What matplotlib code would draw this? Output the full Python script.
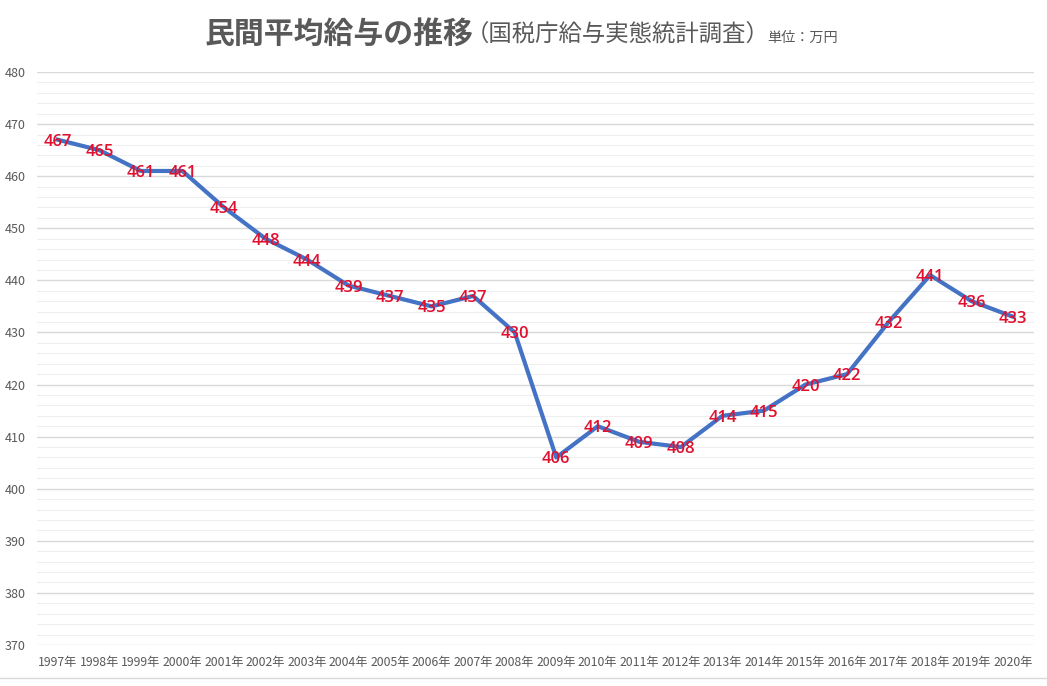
import matplotlib.pyplot as plt
from matplotlib.lines import Line2D
from matplotlib.ticker import MultipleLocator

plt.rcParams['font.family'] = ['Noto Sans CJK JP', 'DejaVu Sans']

years = [str(y) + '年' for y in range(1997, 2021)]
salary = [467, 465, 461, 461, 454, 448, 444, 439, 437, 435, 437, 430,
          406, 412, 409, 408, 414, 415, 420, 422, 432, 441, 436, 433]

W, H = 1047, 686
fig = plt.figure(figsize=(W / 100, H / 100), dpi=100)
ax = fig.add_axes([37 / W, (H - 645) / H, (1034 - 37) / W, (645 - 72) / H])

x = list(range(len(years)))
ax.plot(x, salary, color='#4472C4', lw=3.0, solid_joinstyle='round', zorder=3)
for xi, v in zip(x, salary):
    ax.text(xi, v, str(v), color='#E0102F', fontsize=12, fontweight='semibold',
            family=['Open Sans', 'DejaVu Sans'], ha='center', va='center_baseline', zorder=4)

ax.set_xlim(-0.5, len(years) - 0.5)
ax.set_ylim(370, 480)
ax.yaxis.set_major_locator(MultipleLocator(10))
ax.yaxis.set_minor_locator(MultipleLocator(2))
ax.grid(which='major', axis='y', color='#D9D9D9', lw=1.0)
ax.grid(which='minor', axis='y', color='#EFEFEF', lw=0.8)
ax.set_axisbelow(True)
ax.set_xticks(x)
ax.set_xticklabels(years)
for s in ax.spines.values():
    s.set_visible(False)
ax.tick_params(axis='both', which='both', length=0, colors='#595959')
ax.tick_params(axis='x', pad=8, labelsize=8.8)
ax.tick_params(axis='y', pad=8, labelsize=9)

fig.text(205 / W, 1 - 34 / H, '民間平均給与の推移', fontsize=21.5, fontweight='bold',
         color='#595959', ha='left', va='center')
fig.text(466 / W, 1 - 35 / H, '（国税庁給与実態統計調査）', fontsize=16.8,
         color='#595959', ha='left', va='center')
fig.text(767 / W, 1 - 38 / H, '単位：万円', fontsize=10.2,
         color='#595959', ha='left', va='center')

fig.add_artist(Line2D([0, 1], [1 - 678 / H, 1 - 678 / H], color='#D9D9D9', lw=1.0,
                      transform=fig.transFigure))

fig.savefig('out.png', dpi=100, facecolor='white')
